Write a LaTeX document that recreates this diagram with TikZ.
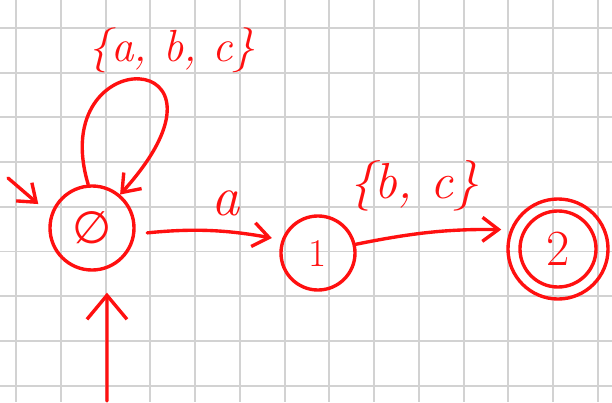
\documentclass[tikz,border=0pt]{standalone}
\usepackage{fontspec}
\newfontfamily\symbolfont{DejaVu Sans}
\usepackage{tikz}
\usetikzlibrary{arrows.meta}
\definecolor{inkRed}{HTML}{FF1010}
\definecolor{gridGrey}{HTML}{D2D2D2}

\tikzset{
  state/.style={circle, draw=inkRed, line width=2.4pt, text=inkRed, inner sep=0pt, font=\fontsize{28}{32}\selectfont},
  edge/.style={draw=inkRed, line width=2.4pt, line cap=round, line join=round, -{Straight Barb[length=4mm, width=6mm]}},
  lbl/.style={text=inkRed, font=\fontsize{32}{38}\selectfont\itshape, inner sep=0pt},
  paper/.style={gridGrey, line width=1.4pt}
}

\begin{document}
\begin{tikzpicture}[x=0.025cm, y=-0.025cm]
  % squared paper
  \useasboundingbox (0,0) rectangle (612,402);
  \fill[white] (0,0) rectangle (612,402);
  \foreach \gx in {0,...,13}
    \draw[paper] (16+44.77*\gx, 0) -- (16+44.77*\gx, 402);
  \foreach \gy in {0,...,8}
    \draw[paper] (0, 28+44.7*\gy) -- (612, 28+44.7*\gy);

  % states
  \node[state, minimum size=2.1cm, font=\fontsize{32}{36}\selectfont] (q0) at (92,228) {\symbolfont ∅};
  \node[state, minimum size=1.85cm] (q1) at (318,253) {1};
  \node[state, minimum size=2.5cm, font=\fontsize{36}{40}\selectfont] (q2) at (558,249) {2};
  \draw[inkRed, line width=2.4pt] (q2.center) circle[radius=0.95cm];

  % start arrows
  \coordinate (in0) at (8,178);
  \coordinate (in1) at (107,401);
  \draw[edge, shorten >=0.4cm] (in0) -- (q0.162);
  \draw[edge, -{Straight Barb[length=6mm, width=10mm]}, shorten >=0.59cm] (in1) -- (q0.-70);

  % transitions
  \draw[edge] (q0.95) .. controls (45,40) and (255,45) .. (q0.50);
  \draw[edge, shorten <=0.3cm, shorten >=0.25cm] (q0.-8) to[bend left=8] (q1.160);
  \draw[edge, shorten >=0.22cm] (q1.13) to[bend left=6] (q2.158);

  % labels
  \node[lbl] (l00) at (172,50) {\{a, b, c\}};
  \node[lbl, font=\fontsize{40}{44}\selectfont\itshape] (l01) at (226,203) {a};
  \node[lbl, font=\fontsize{36}{40}\selectfont\itshape] (l12) at (414,186) {\{b, c\}};
\end{tikzpicture}
\end{document}
